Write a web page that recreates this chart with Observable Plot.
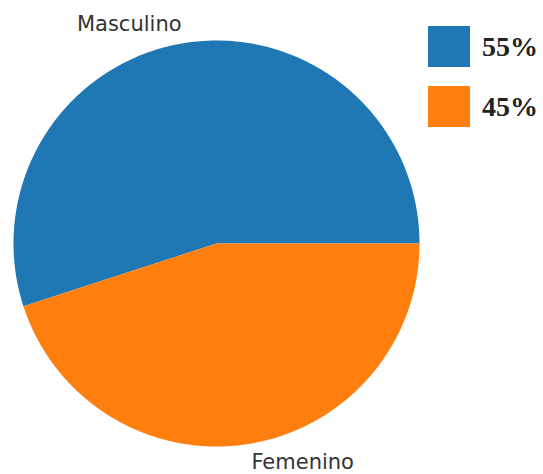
<!DOCTYPE html>
<html>
<head>
<meta charset="utf-8">
<script src="https://cdn.jsdelivr.net/npm/d3@7"></script>
<script src="https://cdn.jsdelivr.net/npm/@observablehq/plot@0.6"></script>
<style>
  html, body { margin: 0; padding: 0; background: #fff; }
  #wrap { position: relative; width: 543px; height: 474px; }
  #legend { position: absolute; left: 428px; top: 26px; font-family: "Liberation Serif", serif; font-weight: bold; font-size: 28px; color: #222; }
  .item { display: flex; align-items: center; height: 41px; margin-bottom: 19px; }
  .sw { width: 42px; height: 41px; margin-right: 12px; }
</style>
</head>
<body>
<div id="wrap"><div id="legend"></div></div>
<script>
const categories = ["Masculino", "Femenino"];
const values = [55, 45];
const legendLabels = ["55%", "45%"];
const colors = ["#1f77b4", "#ff7f0e"];

// Build slice outlines in unit-circle data space (matplotlib: start at 0°, counterclockwise)
const total = d3.sum(values);
const slices = [];
const labels = [];
let start = 0;
categories.forEach((c, i) => {
  const sweep = values[i] / total * 2 * Math.PI;
  const end = start + sweep;
  slices.push({cat: c, x: 0, y: 0});
  const n = Math.max(2, Math.ceil(sweep / (Math.PI / 180)));
  for (let k = 0; k <= n; k++) {
    const a = start + sweep * k / n;
    slices.push({cat: c, x: Math.cos(a), y: Math.sin(a)});
  }
  slices.push({cat: c, x: 0, y: 0});
  const mid = (start + end) / 2;
  labels.push({cat: c, x: 1.1 * Math.cos(mid), y: 1.1 * Math.sin(mid), anchor: Math.cos(mid) < 0 ? "end" : "start"});
  start = end;
});

const chart = Plot.plot({
  width: 543,
  height: 474,
  marginLeft: 13,
  marginRight: 124,
  marginTop: 40,
  marginBottom: 28,
  x: {domain: [-1, 1], axis: null},
  y: {domain: [-1, 1], axis: null},
  color: {domain: categories, range: colors},
  style: {background: "transparent", overflow: "visible"},
  marks: [
    Plot.line(slices, {x: "x", y: "y", z: "cat", fill: "cat", stroke: "none", curve: "linear"}),
    Plot.text(labels.filter(d => d.anchor === "end"), {x: "x", y: "y", text: "cat", textAnchor: "end", fontSize: 21, fill: "#333", fontFamily: "DejaVu Sans", lineAnchor: "middle", dy: 1}),
    Plot.text(labels.filter(d => d.anchor === "start"), {x: "x", y: "y", text: "cat", textAnchor: "start", fontSize: 21, fill: "#333", fontFamily: "DejaVu Sans", lineAnchor: "middle", dy: -2})
  ]
});
document.getElementById("wrap").prepend(chart);

const legend = document.getElementById("legend");
legendLabels.forEach((t, i) => {
  const item = document.createElement("div");
  item.className = "item";
  const sw = document.createElement("div");
  sw.className = "sw";
  sw.style.background = colors[i];
  const lab = document.createElement("span");
  lab.textContent = t;
  item.appendChild(sw);
  item.appendChild(lab);
  legend.appendChild(item);
});
</script>
</body>
</html>
